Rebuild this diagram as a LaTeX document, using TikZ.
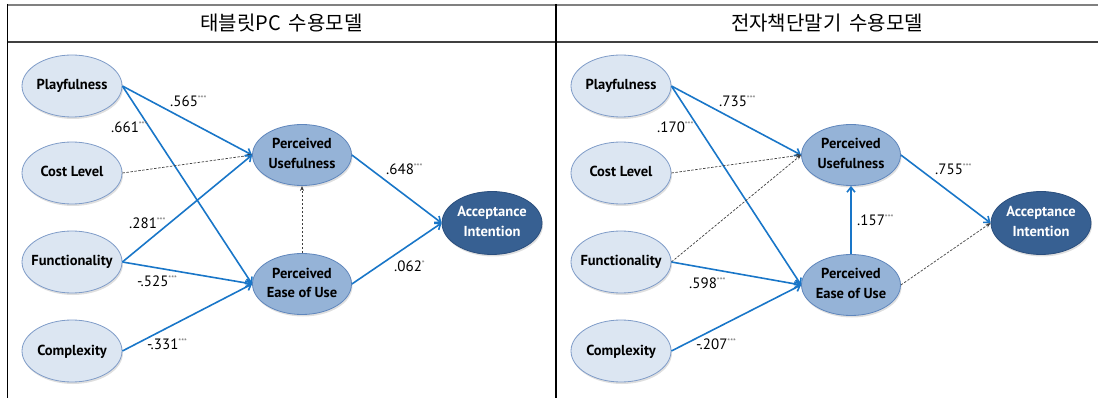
\documentclass[tikz,border=0pt]{standalone}
\usepackage{fontspec}
\setmainfont{PT Sans}
\newfontfamily\krfont{Noto Sans CJK KR}
\usetikzlibrary{shapes.geometric,arrows.meta,shadows}

\definecolor{lightfill}{HTML}{DCE6F2}
\definecolor{lightedge}{HTML}{7F9CC8}
\definecolor{midfill}{HTML}{95B3D7}
\definecolor{midedge}{HTML}{5F86BC}
\definecolor{darkfill}{HTML}{376092}
\definecolor{darkedge}{HTML}{2B4F7E}
\definecolor{pathblue}{HTML}{1976C8}
\definecolor{nsgray}{HTML}{3F3F3F}
\definecolor{stargray}{HTML}{6A6A6A}

% zero-width text block, so the ellipse keeps its own size
\newcommand\inside[1]{\makebox[0pt]{\begin{tabular}{@{}c@{}}#1\end{tabular}}}
% path coefficient with significance stars
\newcommand\coef[2]{#1\textsuperscript{\color{stargray}\fontsize{8}{8}\selectfont #2}}

\tikzset{
  construct/.style={ellipse, draw=lightedge, fill=lightfill, line width=0.8pt,
    minimum width=100pt, minimum height=62pt, inner sep=0pt,
    font=\fontsize{14.5}{20}\selectfont\bfseries,
    drop shadow={opacity=0.25, shadow xshift=1pt, shadow yshift=-2pt}},
  mediator/.style={construct, draw=midedge, fill=midfill, minimum width=99pt, minimum height=61pt},
  outcome/.style={construct, draw=darkedge, fill=darkfill, text=white, minimum width=100pt, minimum height=63pt},
  sig/.style={draw=pathblue, line width=1.6pt, -{Straight Barb[length=5pt,width=8pt]}},
  ns/.style={draw=nsgray, line width=0.7pt, dash pattern=on 2.5pt off 1.5pt, -{Stealth[length=5pt,width=4pt]}},
  coeflabel/.style={anchor=west, inner sep=0pt, font=\fontsize{15}{17}\selectfont},
  heading/.style={font=\krfont\fontsize{20}{20}\selectfont},
}

\begin{document}
\begin{tikzpicture}[x=1pt, y=-1pt]
\useasboundingbox (0,0) rectangle (1098,398);

% table frame
\draw[line width=2pt, draw=black!50] (7,5) -- (1098,5);
\draw[line width=1.3pt, draw=black!75] (7,42) -- (1098,42);
\draw[line width=1pt] (7,4) -- (7,398);
\draw[line width=1.2pt] (556,4) -- (556,398);

\node[heading] (titleA) at (281.5,23) {태블릿PC\hspace{0.4em}수용모델};
\node[heading] (titleB) at (827,23) {전자책단말기\hspace{0.4em}수용모델};

% ---------------- tablet PC model ----------------
\node[construct] (pA) at (72,86)  {\inside{Playfulness}};
\node[construct] (cA) at (72,173) {\inside{Cost Level}};
\node[construct] (fA) at (72,262) {\inside{Functionality}};
\node[construct] (xA) at (72,351) {\inside{Complexity}};
\node[mediator]  (uA) at (302,155) {\inside{Perceived\\Usefulness}};
\node[mediator]  (eA) at (302,284) {\inside{Perceived\\Ease of Use}};
\node[outcome]   (aA) at (492,223) {\inside{Acceptance\\Intention}};

\draw[sig] (pA.east) -- (uA.west);
\draw[sig] (pA.east) -- (eA.west);
\draw[ns]  (cA.east) -- (uA.west);
\draw[sig] (fA.east) -- (uA.west);
\draw[sig] (fA.east) -- (eA.west);
\draw[sig] (xA.east) -- (eA.west);
\draw[ns]  (eA.north) -- (uA.south);
\draw[sig] (uA.east) -- (aA.west);
\draw[sig] (eA.east) -- (aA.west);

\node[coeflabel] (kA1) at (170,101) {\coef{.565}{***}};
\node[coeflabel] (kA2) at (111,127) {\coef{.661}{***}};
\node[coeflabel] (kA3) at (129,223) {\coef{.281}{***}};
\node[coeflabel] (kA4) at (137,281) {\coef{-.525}{***}};
\node[coeflabel] (kA5) at (147,344) {\coef{-.331}{***}};
\node[coeflabel] (kA6) at (386,169) {\coef{.648}{***}};
\node[coeflabel] (kA7) at (394,266) {\coef{.062}{*}};

% ---------------- e-book reader model ----------------
\node[construct] (pB) at (621,86)  {\inside{Playfulness}};
\node[construct] (cB) at (621,173) {\inside{Cost Level}};
\node[construct] (fB) at (621,262) {\inside{Functionality}};
\node[construct] (xB) at (621,351) {\inside{Complexity}};
\node[mediator]  (uB) at (851,155) {\inside{Perceived\\Usefulness}};
\node[mediator]  (eB) at (851,285) {\inside{Perceived\\Ease of Use}};
\node[outcome]   (aB) at (1041,223) {\inside{Acceptance\\Intention}};

\draw[sig] (pB.east) -- (uB.west);
\draw[sig] (pB.east) -- (eB.west);
\draw[ns]  (cB.east) -- (uB.west);
\draw[ns]  (fB.east) -- (uB.west);
\draw[sig] (fB.east) -- (eB.west);
\draw[sig] (xB.east) -- (eB.west);
\draw[sig] (eB.north) -- (uB.south);
\draw[sig] (uB.east) -- (aB.west);
\draw[ns]  (eB.east) -- (aB.west);

\node[coeflabel] (kB1) at (719,101) {\coef{.735}{***}};
\node[coeflabel] (kB2) at (657,127) {\coef{.170}{***}};
\node[coeflabel] (kB3) at (857,220) {\coef{.157}{***}};
\node[coeflabel] (kB4) at (689,283) {\coef{.598}{***}};
\node[coeflabel] (kB5) at (696,344) {\coef{-.207}{***}};
\node[coeflabel] (kB6) at (935,169) {\coef{.755}{***}};
\end{tikzpicture}
\end{document}
